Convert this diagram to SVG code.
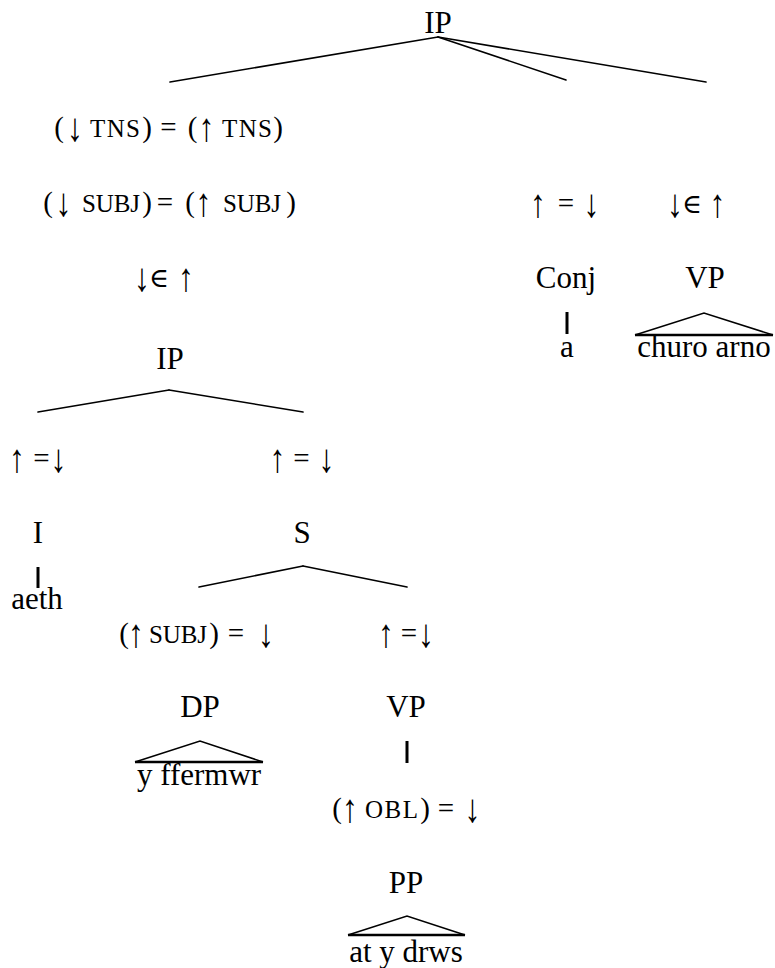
<svg xmlns="http://www.w3.org/2000/svg" width="775" height="968" viewBox="0 0 775 968">
  <style>
    text { font-family: "Liberation Serif", "Times New Roman", "DejaVu Serif", serif; fill: #000; text-anchor: middle; }
    .cat { font-size: 31px; }
    .word { font-size: 31px; }
    .p { font-size: 29px; }
    .sc { font-size: 25px; }
    .ar { font-size: 32px; }
    .el { font-family: "DejaVu Serif", "Liberation Serif", serif; font-size: 27px; }
    .edge { stroke: #000; stroke-width: 1.6; fill: none; stroke-linecap: round; }
    .bar { stroke: #000; stroke-width: 3; fill: none; }
    .roof { stroke: #000; stroke-width: 1.6; fill: none; }
    .base { stroke: #000; stroke-width: 2.6; fill: none; }
  </style>

  <!-- tree branches, unary bars and roofs -->
  <g id="connectors">
    <line class="edge" x1="438" y1="37" x2="170" y2="82"/>
    <line class="edge" x1="438" y1="37" x2="566" y2="80"/>
    <line class="edge" x1="438" y1="37" x2="706" y2="82"/>
    <line class="edge" x1="169" y1="390" x2="38" y2="412"/>
    <line class="edge" x1="169" y1="390" x2="303" y2="412"/>
    <line class="edge" x1="303" y1="566" x2="199" y2="587"/>
    <line class="edge" x1="303" y1="566" x2="407" y2="587"/>
    <line class="bar" x1="567" y1="312" x2="567" y2="334"/>
    <line class="bar" x1="38" y1="567" x2="38" y2="588"/>
    <line class="bar" x1="407" y1="741" x2="407" y2="763"/>
    <polyline class="roof" points="635,335 704,313 773,335"/>
    <line class="base" x1="635" y1="335" x2="773" y2="335"/>
    <polyline class="roof" points="135,762 200,741 263,762"/>
    <line class="base" x1="135" y1="762" x2="263" y2="762"/>
    <polyline class="roof" points="348,935 407,916 465,935"/>
    <line class="base" x1="348" y1="935" x2="465" y2="935"/>
  </g>

  <g id="ip-root"><text class="cat" x="438" y="33">IP</text></g>

  <!-- (↓ TNS) = (↑ TNS); arrows are stretched vertically to math height -->
  <g id="ann-tns">
    <text class="p" x="59" y="137">(</text>
    <text class="ar" transform="translate(75 141) scale(1 1.25)">↓</text>
    <text class="sc" x="115" y="137" textLength="50" lengthAdjust="spacing">TNS</text>
    <text class="p" x="147" y="137">)</text>
    <text class="p" x="168.5" y="137">=</text>
    <text class="p" x="192.5" y="137">(</text>
    <text class="ar" transform="translate(206.5 141) scale(1 1.25)">↑</text>
    <text class="sc" x="247" y="137" textLength="50" lengthAdjust="spacing">TNS</text>
    <text class="p" x="278" y="137">)</text>
  </g>

  <!-- (↓ SUBJ) = (↑ SUBJ) -->
  <g id="ann-subj">
    <text class="p" x="48" y="212">(</text>
    <text class="ar" transform="translate(63.5 216) scale(1 1.25)">↓</text>
    <text class="sc" x="111" y="212" textLength="58" lengthAdjust="spacing">SUBJ</text>
    <text class="p" x="147" y="212">)</text>
    <text class="p" x="165" y="212">=</text>
    <text class="p" x="190" y="212">(</text>
    <text class="ar" transform="translate(203.5 216) scale(1 1.25)">↑</text>
    <text class="sc" x="252" y="212" textLength="58" lengthAdjust="spacing">SUBJ</text>
    <text class="p" x="291" y="212">)</text>
  </g>

  <!-- ↓∈ ↑ above the embedded IP -->
  <g id="ann-member">
    <text class="ar" transform="translate(142 291) scale(1 1.25)">↓</text>
    <text class="el" x="159" y="287">∈</text>
    <text class="ar" transform="translate(186 291) scale(1 1.25)">↑</text>
  </g>

  <g id="ann-conj">
    <text class="ar" transform="translate(538 217) scale(1 1.25)">↑</text>
    <text class="p" x="566" y="213">=</text>
    <text class="ar" transform="translate(591.5 217) scale(1 1.25)">↓</text>
  </g>
  <g id="ann-vp1">
    <text class="ar" transform="translate(675 217) scale(1 1.25)">↓</text>
    <text class="el" x="692" y="213">∈</text>
    <text class="ar" transform="translate(717.5 217) scale(1 1.25)">↑</text>
  </g>

  <g id="conj"><text class="cat" x="566" y="288">Conj</text></g>
  <g id="vp1"><text class="cat" x="705" y="288">VP</text></g>
  <g id="word-a"><text class="word" x="567" y="357">a</text></g>
  <g id="word-churo"><text class="word" x="704" y="357">churo arno</text></g>

  <g id="ip-inner"><text class="cat" x="170" y="369">IP</text></g>

  <g id="ann-i">
    <text class="ar" transform="translate(17 472) scale(1 1.25)">↑</text>
    <text class="p" x="41.5" y="468">=</text>
    <text class="ar" transform="translate(58.5 472) scale(1 1.25)">↓</text>
  </g>
  <g id="ann-s">
    <text class="ar" transform="translate(277.5 472) scale(1 1.25)">↑</text>
    <text class="p" x="301.5" y="468">=</text>
    <text class="ar" transform="translate(326.5 472) scale(1 1.25)">↓</text>
  </g>

  <g id="i"><text class="cat" x="38" y="543">I</text></g>
  <g id="s"><text class="cat" x="302" y="543">S</text></g>
  <g id="word-aeth"><text class="word" x="37" y="609">aeth</text></g>

  <!-- (↑ SUBJ) = ↓ -->
  <g id="ann-dp">
    <text class="p" x="124" y="643">(</text>
    <text class="ar" transform="translate(136 647) scale(1 1.25)">↑</text>
    <text class="sc" x="178" y="643" textLength="58" lengthAdjust="spacing">SUBJ</text>
    <text class="p" x="214" y="643">)</text>
    <text class="p" x="236" y="643">=</text>
    <text class="ar" transform="translate(266 647) scale(1 1.25)">↓</text>
  </g>
  <g id="ann-vp2">
    <text class="ar" transform="translate(386 647) scale(1 1.25)">↑</text>
    <text class="p" x="409" y="643">=</text>
    <text class="ar" transform="translate(426 647) scale(1 1.25)">↓</text>
  </g>

  <g id="dp"><text class="cat" x="200" y="717">DP</text></g>
  <g id="vp2"><text class="cat" x="406" y="717">VP</text></g>
  <g id="word-ffermwr"><text class="word" x="199" y="785">y ffermwr</text></g>

  <!-- (↑ OBL) = ↓ -->
  <g id="ann-pp">
    <text class="p" x="337" y="818">(</text>
    <text class="ar" transform="translate(350 822) scale(1 1.25)">↑</text>
    <text class="sc" x="391.5" y="818" textLength="53" lengthAdjust="spacing">OBL</text>
    <text class="p" x="425" y="818">)</text>
    <text class="p" x="446" y="818">=</text>
    <text class="ar" transform="translate(472.5 822) scale(1 1.25)">↓</text>
  </g>
  <g id="pp"><text class="cat" x="406" y="893">PP</text></g>
  <g id="word-drws"><text class="word" x="406" y="962">at y drws</text></g>
</svg>
